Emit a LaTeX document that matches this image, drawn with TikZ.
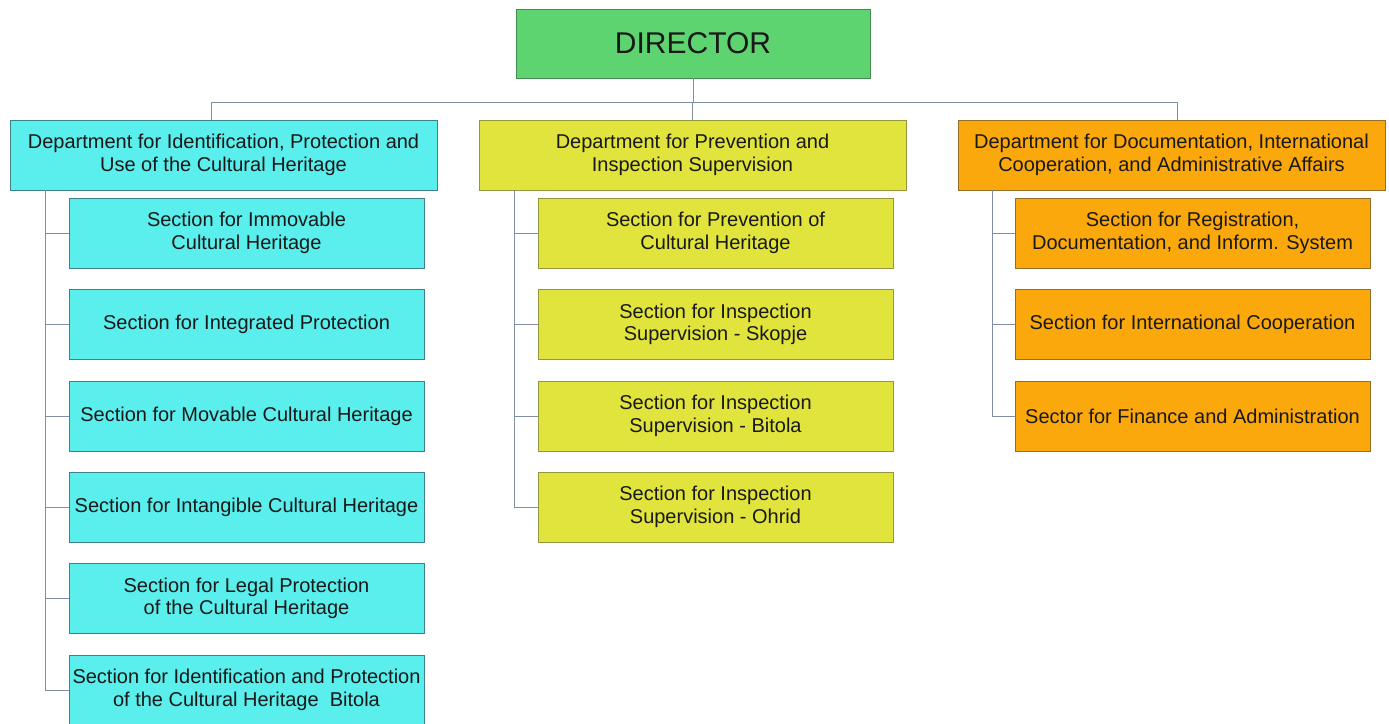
\documentclass[tikz,border=0pt]{standalone}
\usepackage{fontspec}
\setmainfont{Liberation Sans}
\definecolor{dirgreen}{RGB}{93,212,112}
\definecolor{dirborder}{RGB}{70,140,80}
\definecolor{cyanbox}{RGB}{90,238,236}
\definecolor{cyanborder}{RGB}{60,130,140}
\definecolor{yelbox}{RGB}{224,228,60}
\definecolor{yelborder}{RGB}{150,150,60}
\definecolor{orabox}{RGB}{250,168,12}
\definecolor{oraborder}{RGB}{150,110,40}
\definecolor{linkcol}{RGB}{128,142,165}
\begin{document}
\begin{tikzpicture}[x=1pt,y=-1pt,
  box/.style={draw, line width=0.8pt, inner sep=0pt, align=center, text=black!90,
     font=\fontsize{20}{22.5}\selectfont},
  dept/.style={box, minimum width=427pt, minimum height=70pt},
  sect/.style={box, minimum width=355pt, minimum height=70pt},
  cy/.style={fill=cyanbox, draw=cyanborder},
  ye/.style={fill=yelbox, draw=yelborder},
  or/.style={fill=orabox, draw=oraborder},
  link/.style={draw=linkcol, line width=0.9pt}]
\clip (0,0) rectangle (1389,723);
\fill[white] (0,0) rectangle (1389,723);
\node[box, fill=dirgreen, draw=dirborder, minimum width=354pt, minimum height=69pt,
  font=\fontsize{30}{34}\selectfont] (dir) at (693,43.5) {DIRECTOR};
\node[dept,cy] (d1) at (223.5,155) {Department for Identification, Protection and\\Use of the Cultural Heritage};
\node[dept,ye] (d2) at (692.5,155) {Department for Prevention and\\Inspection Supervision};
\node[dept,or] (d3) at (1171.5,155) {Department for Documentation, International\\Cooperation, and Administrative Affairs};
% left column
\node[sect,cy] (a1) at (246.5,233) {Section for Immovable\\Cultural Heritage};
\node[sect,cy] (a2) at (246.5,324.5) {Section for Integrated Protection};
\node[sect,cy] (a3) at (246.5,416) {Section for Movable Cultural Heritage};
\node[sect,cy] (a4) at (246.5,507) {Section for Intangible Cultural Heritage};
\node[sect,cy] (a5) at (246.5,598.5) {Section for Legal Protection\\of the Cultural Heritage};
\node[sect,cy] (a6) at (246.5,690) {Section for Identification and Protection\\of the Cultural Heritage\ \ Bitola};
% middle column
\node[sect,ye] (b1) at (715.5,233) {Section for Prevention of\\Cultural Heritage};
\node[sect,ye] (b2) at (715.5,324.5) {Section for Inspection\\Supervision - Skopje};
\node[sect,ye] (b3) at (715.5,416) {Section for Inspection\\Supervision - Bitola};
\node[sect,ye] (b4) at (715.5,507) {Section for Inspection\\Supervision - Ohrid};
% right column
\node[sect,or] (c1) at (1192.5,233) {Section for Registration,\\Documentation, and Inform. System};
\node[sect,or] (c2) at (1192.5,324.5) {Section for International Cooperation};
\node[sect,or] (c3) at (1192.5,416) {Sector for Finance and Administration};
% connectors
\coordinate (bus) at (0,102);
\draw[link] (dir.south) -- (dir.south |- bus);
\draw[link] (211,102) coordinate (bl) -- (1177,102) coordinate (br);
\draw[link] (bl) -- (bl |- d1.north);
\draw[link] (br) -- (br |- d3.north);
\draw[link] (692.5,102) -- (d2.north);
\coordinate (ta) at (45,190);
\coordinate (tb) at (514,190);
\coordinate (tc) at (992,190);
\draw[link] (ta) -- (ta |- a6.west) -- (a6.west);
\foreach \n in {a1,a2,a3,a4,a5} \draw[link] (ta |- \n.west) -- (\n.west);
\draw[link] (tb) -- (tb |- b4.west) -- (b4.west);
\foreach \n in {b1,b2,b3} \draw[link] (tb |- \n.west) -- (\n.west);
\draw[link] (tc) -- (tc |- c3.west) -- (c3.west);
\foreach \n in {c1,c2} \draw[link] (tc |- \n.west) -- (\n.west);
\end{tikzpicture}
\end{document}
